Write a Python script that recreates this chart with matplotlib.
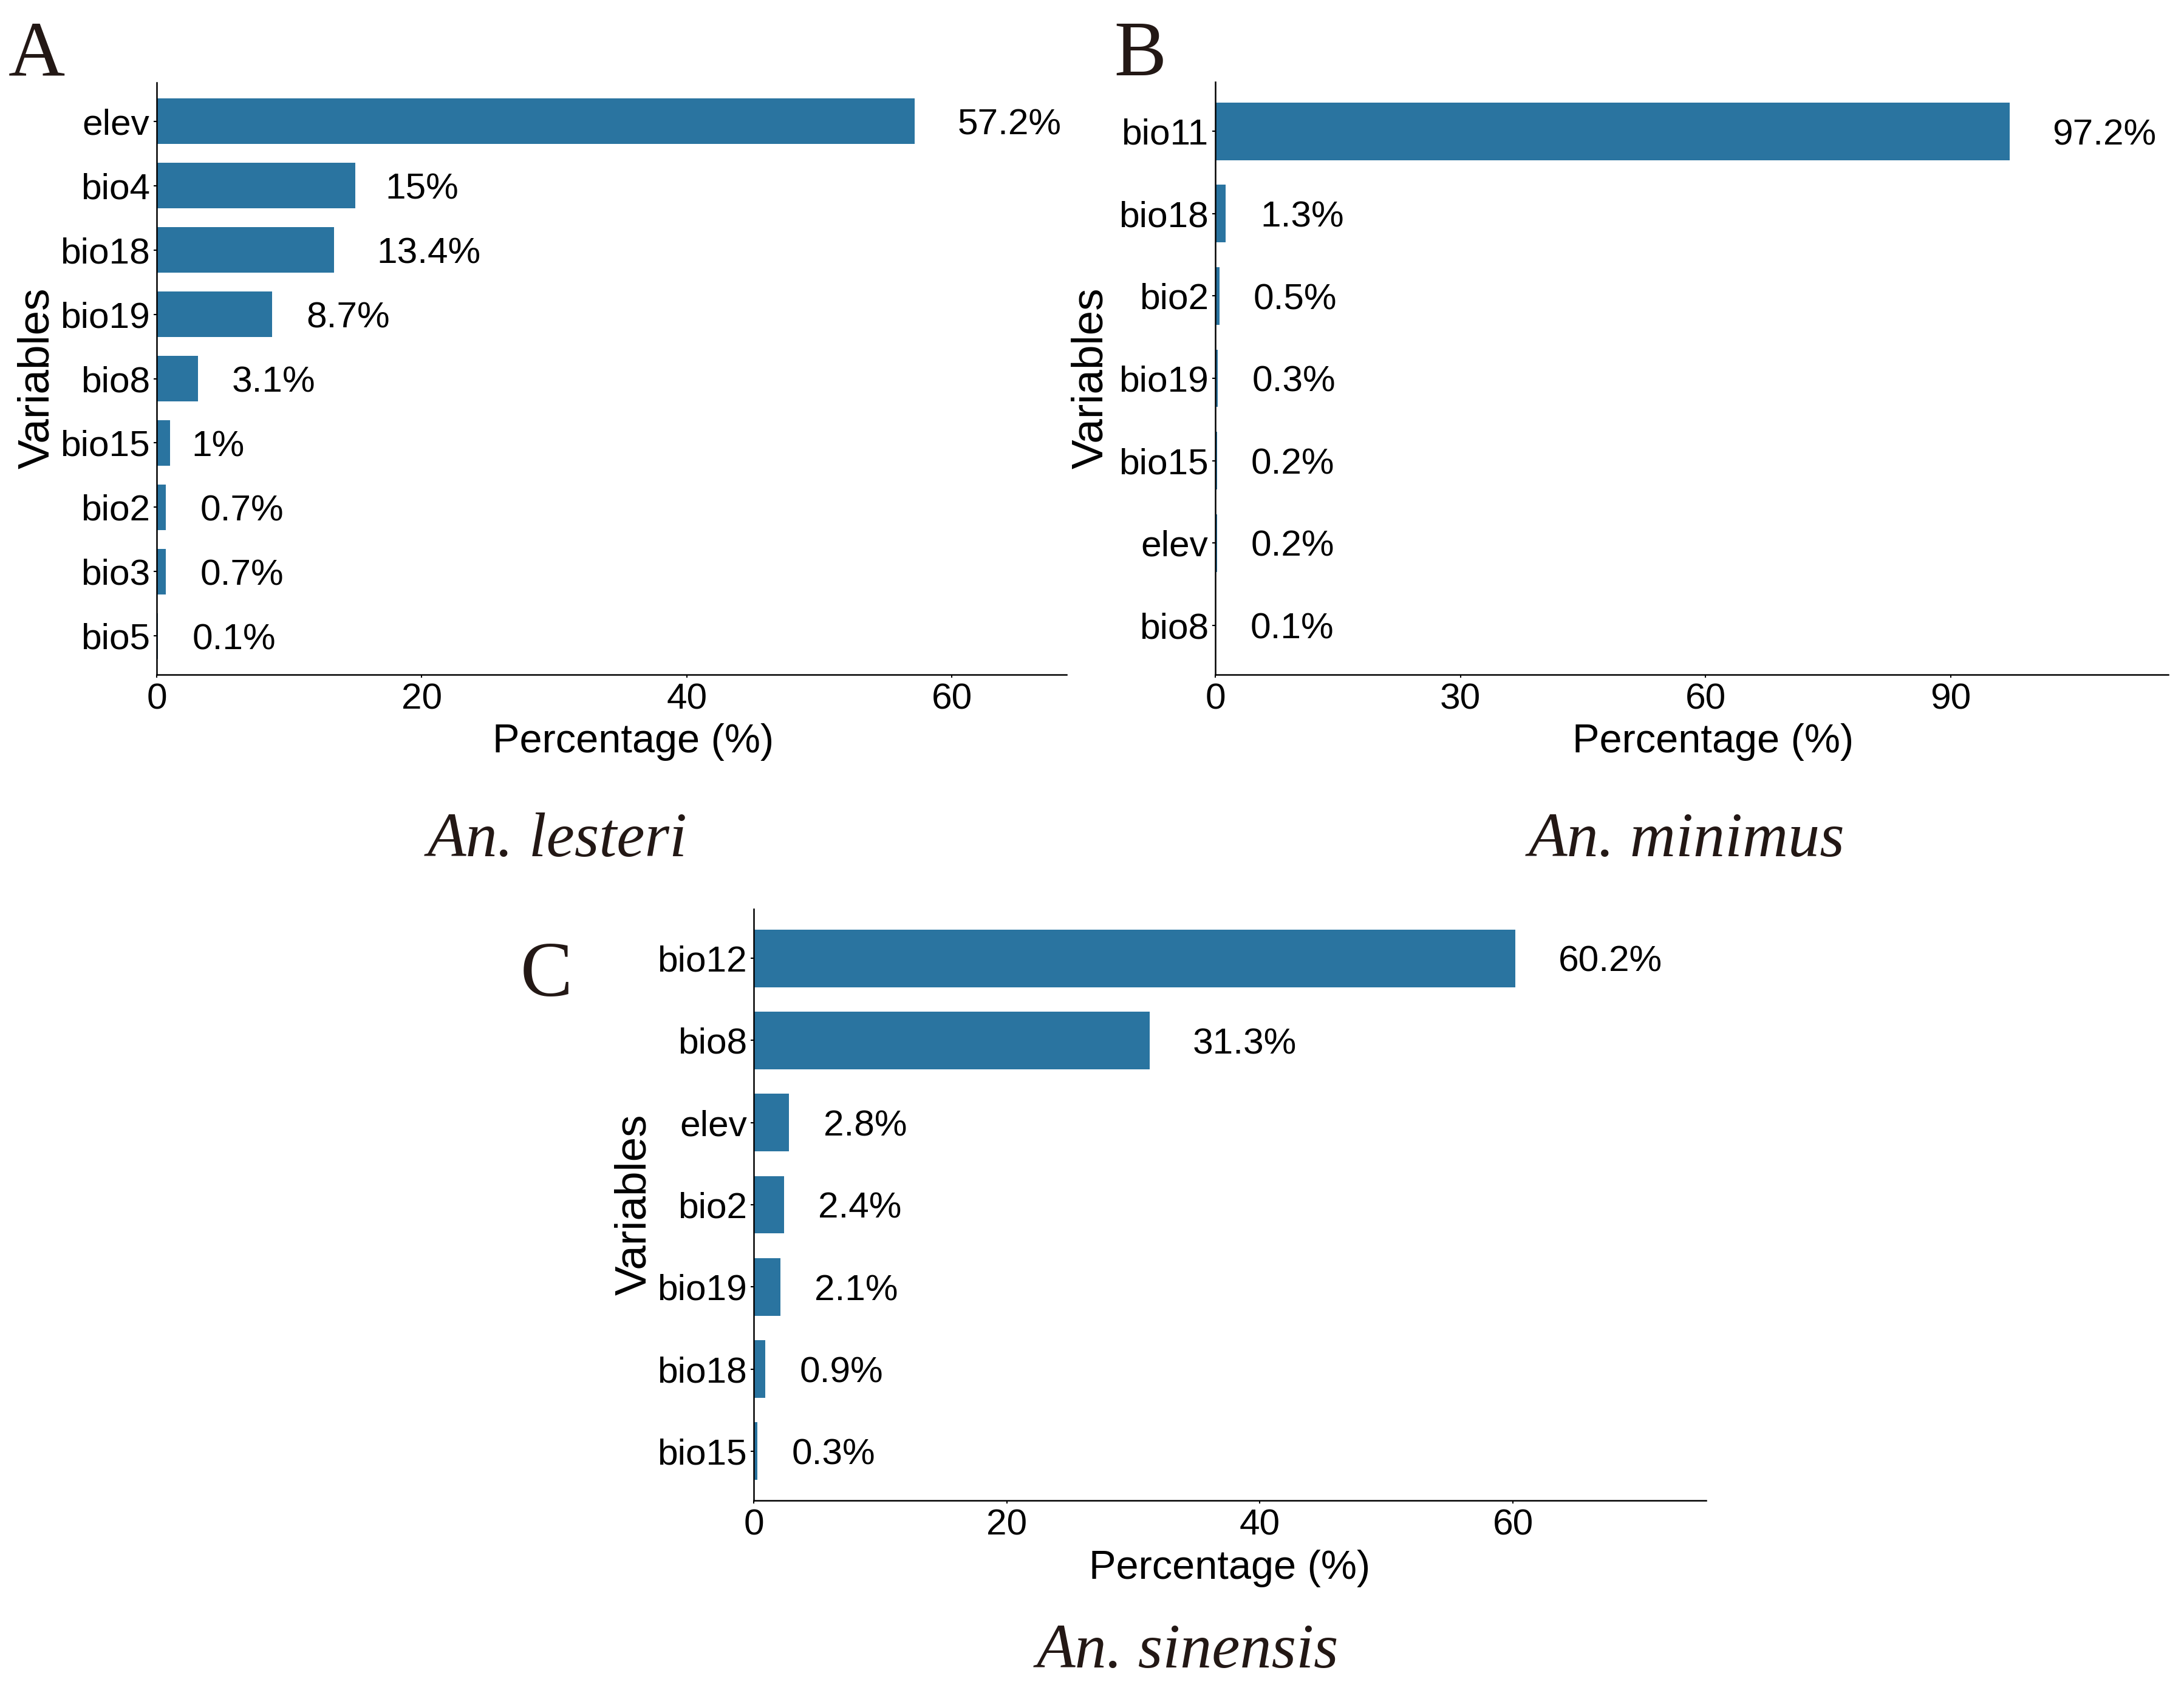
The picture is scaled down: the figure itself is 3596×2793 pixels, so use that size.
import matplotlib
matplotlib.use("Agg")
import matplotlib.pyplot as plt
import matplotlib.transforms as mtransforms

plt.rcParams['font.family'] = ['Liberation Sans', 'DejaVu Sans']

# ---- data (top to bottom as drawn) ----
vars_a = ['elev', 'bio4', 'bio18', 'bio19', 'bio8', 'bio15', 'bio2', 'bio3', 'bio5']
pct_a = [57.2, 15, 13.4, 8.7, 3.1, 1, 0.7, 0.7, 0.1]

vars_b = ['bio11', 'bio18', 'bio2', 'bio19', 'bio15', 'elev', 'bio8']
pct_b = [97.2, 1.3, 0.5, 0.3, 0.2, 0.2, 0.1]

vars_c = ['bio12', 'bio8', 'elev', 'bio2', 'bio19', 'bio18', 'bio15']
pct_c = [60.2, 31.3, 2.8, 2.4, 2.1, 0.9, 0.3]

ticks_a = [0, 20, 40, 60]
ticks_b = [0, 30, 60, 90]
ticks_c = [0, 20, 40, 60]

species = ['An. lesteri', 'An. minimus', 'An. sinensis']
letters = ['A', 'B', 'C']

BAR = '#2A74A0'
DARK = '#231815'
LAB_SIZE = 14.5

W, H = 3596, 2793
fig = plt.figure(figsize=(W / 300, H / 300), dpi=300)


def px(x, y):
    # pixel position (from top-left) -> figure fraction
    return x / W, 1 - y / H


def panel(rect, names, vals, ticks, xmax):
    l, t, r, b = rect
    ax = fig.add_axes([l / W, 1 - b / H, (r - l) / W, (b - t) / H])
    n = len(names)
    ypos = list(range(n))
    ax.barh(ypos, vals, height=0.7, color=BAR)
    ax.set_ylim(n - 0.4, -0.6)
    ax.set_xlim(0, xmax)
    ax.set_yticks(ypos)
    ax.set_yticklabels(names)
    ax.set_xticks(ticks)
    for s in ['top', 'right']:
        ax.spines[s].set_visible(False)
    for s in ['left', 'bottom']:
        ax.spines[s].set_linewidth(0.6)
        ax.spines[s].set_color('black')
    ax.tick_params(axis='both', length=1.2, width=0.5, labelsize=14.5, colors='black')
    ax.tick_params(axis='y', pad=1.5)
    ax.tick_params(axis='x', pad=2)
    labels = []
    for yy, v in zip(ypos, vals):
        t = ax.text(v, yy, f'{v:g}%', ha='left', va='baseline', fontsize=LAB_SIZE)
        labels.append(t)
    return ax, labels


ax_a, lab_a = panel((258, 136, 1756, 1111), vars_a, pct_a, ticks_a, max(pct_a) * 1.2)
ax_b, lab_b = panel((2001, 135, 3570, 1111), vars_b, pct_b, ticks_b, max(pct_b) * 1.2)
ax_c, lab_c = panel((1241, 1497, 2809, 2471), vars_c, pct_c, ticks_c, max(pct_c) * 1.25)

# axis titles
for (x, y) in [(1043, 1239), (2821, 1239), (2025, 2600)]:
    fig.text(*px(x, y), 'Percentage (%)', ha='center', va='baseline', fontsize=16)
for (x, y) in [(62, 623), (1797, 623), (1045, 1984)]:
    fig.text(*px(x, y), 'Variables', ha='center', va='center', rotation=90, fontsize=17.5)

# panel letters
for L, (x, y) in zip(letters, [(60, 125), (1877, 124), (900, 1640)]):
    fig.text(*px(x, y), L, ha='center', va='baseline', fontsize=31,
             family=['Liberation Serif', 'DejaVu Serif'], color=DARK)

# species names
for name, (x, y) in zip(species, [(918, 1410), (2777, 1410), (1955, 2746)]):
    fig.text(*px(x, y), name, ha='center', va='baseline', fontsize=25, style='italic',
             family=['Liberation Serif', 'DejaVu Serif'], color=DARK)

# push value labels right by a share of their own width (ggplot hjust < 0)
# and drop the baseline so the digits sit centred on the bar
fig.canvas.draw()
rend = fig.canvas.get_renderer()
em = LAB_SIZE / 72 * fig.dpi
for labs in (lab_a, lab_b, lab_c):
    for t in labs:
        w = t.get_window_extent(rend).width
        t.set_transform(t.get_transform() + mtransforms.Affine2D().translate(0.41 * w, -0.36 * em))

fig.savefig('out.png', dpi=300, facecolor='white')
